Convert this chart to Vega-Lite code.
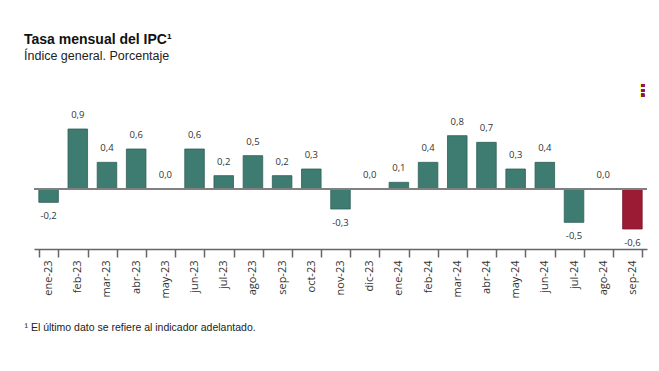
{
  "$schema": "https://vega.github.io/schema/vega-lite/v6.json",
  "autosize": "none",
  "width": 613,
  "height": 160,
  "padding": {"left": 34, "top": 89, "right": 12, "bottom": 122},
  "background": "white",
  "config": {"view": {"stroke": null}},
  "title": {
    "text": "Tasa mensual del IPC¹",
    "subtitle": "Índice general. Porcentaje",
    "anchor": "start",
    "frame": "group",
    "dx": -10,
    "offset": 21,
    "font": "Liberation Sans",
    "fontSize": 14,
    "fontWeight": "bold",
    "color": "#111111",
    "subtitleFont": "Liberation Sans",
    "subtitleFontSize": 12.5,
    "subtitleColor": "#222222",
    "subtitlePadding": 3
  },
  "data": {
    "values": [
      {"mes": "ene-23", "valor": -0.2, "etiqueta": "-0,2", "tipo": "definitivo"},
      {"mes": "feb-23", "valor": 0.9, "etiqueta": "0,9", "tipo": "definitivo"},
      {"mes": "mar-23", "valor": 0.4, "etiqueta": "0,4", "tipo": "definitivo"},
      {"mes": "abr-23", "valor": 0.6, "etiqueta": "0,6", "tipo": "definitivo"},
      {"mes": "may-23", "valor": 0.0, "etiqueta": "0,0", "tipo": "definitivo"},
      {"mes": "jun-23", "valor": 0.6, "etiqueta": "0,6", "tipo": "definitivo"},
      {"mes": "jul-23", "valor": 0.2, "etiqueta": "0,2", "tipo": "definitivo"},
      {"mes": "ago-23", "valor": 0.5, "etiqueta": "0,5", "tipo": "definitivo"},
      {"mes": "sep-23", "valor": 0.2, "etiqueta": "0,2", "tipo": "definitivo"},
      {"mes": "oct-23", "valor": 0.3, "etiqueta": "0,3", "tipo": "definitivo"},
      {"mes": "nov-23", "valor": -0.3, "etiqueta": "-0,3", "tipo": "definitivo"},
      {"mes": "dic-23", "valor": 0.0, "etiqueta": "0,0", "tipo": "definitivo"},
      {"mes": "ene-24", "valor": 0.1, "etiqueta": "0,1", "tipo": "definitivo"},
      {"mes": "feb-24", "valor": 0.4, "etiqueta": "0,4", "tipo": "definitivo"},
      {"mes": "mar-24", "valor": 0.8, "etiqueta": "0,8", "tipo": "definitivo"},
      {"mes": "abr-24", "valor": 0.7, "etiqueta": "0,7", "tipo": "definitivo"},
      {"mes": "may-24", "valor": 0.3, "etiqueta": "0,3", "tipo": "definitivo"},
      {"mes": "jun-24", "valor": 0.4, "etiqueta": "0,4", "tipo": "definitivo"},
      {"mes": "jul-24", "valor": -0.5, "etiqueta": "-0,5", "tipo": "definitivo"},
      {"mes": "ago-24", "valor": 0.0, "etiqueta": "0,0", "tipo": "definitivo"},
      {"mes": "sep-24", "valor": -0.6, "etiqueta": "-0,6", "tipo": "adelantado"}
    ]
  },
  "encoding": {
    "x": {
      "field": "mes",
      "type": "nominal",
      "sort": null,
      "scale": {"paddingInner": 0.33, "paddingOuter": 0.165},
      "axis": {
        "title": "¹ El último dato se refiere al indicador adelantado.",
        "titleAnchor": "start",
        "titleAlign": "left",
        "titleX": -10,
        "titleY": 81,
        "titleBaseline": "alphabetic",
        "titleFont": "Liberation Sans",
        "titleFontSize": 10.5,
        "titleFontWeight": "normal",
        "titleColor": "#222222",
        "labelAngle": -90,
        "labelFont": "Open Sans",
        "labelFontSize": 11,
        "labelColor": "#333333",
        "labelPadding": 3,
        "tickBand": "extent",
        "tickSize": 8,
        "tickColor": "#666666",
        "tickWidth": 1.5,
        "domainColor": "#666666",
        "domainWidth": 1.5
      }
    },
    "y": {
      "field": "valor",
      "type": "quantitative",
      "scale": {"domain": [-0.9, 1.5], "nice": false, "zero": false},
      "axis": null
    }
  },
  "layer": [
    {
      "mark": {"type": "bar", "strokeWidth": 0.8},
      "encoding": {
        "color": {
          "field": "tipo",
          "type": "nominal",
          "scale": {"domain": ["definitivo", "adelantado"], "range": ["#3e7b71", "#9b1b34"]},
          "legend": null
        },
        "stroke": {
          "field": "tipo",
          "type": "nominal",
          "scale": {"domain": ["definitivo", "adelantado"], "range": ["#2e5f57", "#7a1428"]},
          "legend": null
        }
      }
    },
    {
      "mark": {"type": "rule", "color": "#808080", "strokeWidth": 1.5},
      "encoding": {"y": {"datum": 0}, "x": null}
    },
    {
      "transform": [{"filter": "datum.valor >= 0"}],
      "mark": {"type": "text", "dy": -14, "baseline": "middle", "font": "Open Sans", "fontSize": 9.5, "color": "#333333"},
      "encoding": {"text": {"field": "etiqueta"}}
    },
    {
      "transform": [{"filter": "datum.valor < 0"}],
      "mark": {"type": "text", "dy": 14, "baseline": "middle", "font": "Open Sans", "fontSize": 9.5, "color": "#333333"},
      "encoding": {"text": {"field": "etiqueta"}}
    },
    {
      "mark": {"type": "text", "text": "⋮", "font": "DejaVu Sans", "fontSize": 16, "fontWeight": "bold", "color": "#8e1b3c", "dx": 10, "baseline": "middle"},
      "encoding": {"x": {"datum": "sep-24"}, "y": {"datum": 1.47}}
    }
  ]
}
